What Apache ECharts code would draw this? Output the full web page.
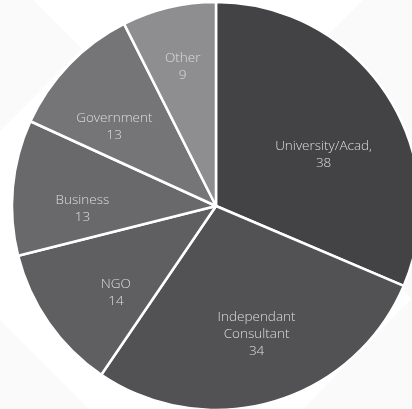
<!DOCTYPE html>
<html>
<head>
<meta charset="utf-8">
<script src="https://cdn.jsdelivr.net/npm/echarts@6/dist/echarts.min.js"></script>
<style>
html,body{margin:0;padding:0;background:#ffffff;}
#chart{width:412px;height:409px;}
</style>
</head>
<body>
<div id="chart"></div>
<script>
// Data
const categories = ['University/Acad,', 'Independant Consultant', 'NGO', 'Business', 'Government', 'Other'];
const values = [38, 34, 14, 13, 13, 9];

// Styles
const sliceColors = ['#434345', '#525254', '#5f5f61', '#69696b', '#757577', '#8e8e90'];
const labelNudge = [[20, 7], [11, 27], [-14, 26], [-29, 12], [-26, -7], [-9, -37]];
const bgShape = '#fafafa';

const chart = echarts.init(document.getElementById('chart'), null, {renderer: 'canvas'});
chart.setOption({
  backgroundColor: '#ffffff',
  animation: false,
  graphic: [
    {type: 'polygon', z: -10, shape: {points: [[0,0],[33,0],[82,49],[0,131]]}, style: {fill: bgShape}},
    {type: 'polygon', z: -10, shape: {points: [[363,0],[412,0],[412,300],[250,113]]}, style: {fill: bgShape}},
    {type: 'polygon', z: -10, shape: {points: [[412,298],[412,409],[303,409]]}, style: {fill: bgShape}},
    {type: 'polygon', z: -10, shape: {points: [[0,320],[0,409],[89,409]]}, style: {fill: bgShape}}
  ],
  series: [{
    type: 'pie',
    center: [216, 206],
    radius: 204,
    startAngle: 90,
    clockwise: true,
    silent: true,
    avoidLabelOverlap: false,
    itemStyle: {borderColor: '#ffffff', borderWidth: 2.5},
    label: {
      show: true,
      position: 'inside',
      color: '#dedede',
      fontFamily: 'Open Sans',
      fontSize: 13.5,
      fontWeight: 300,
      lineHeight: 17,
      align: 'center',
      formatter: p => p.name.replace(' ', '\n') + '\n' + p.value
    },
    labelLine: {show: false},
    labelLayout: p => ({dx: labelNudge[p.dataIndex][0], dy: labelNudge[p.dataIndex][1]}),
    emphasis: {disabled: true},
    data: categories.map((c, i) => ({name: c, value: values[i], itemStyle: {color: sliceColors[i]}}))
  }]
});
</script>
</body>
</html>
